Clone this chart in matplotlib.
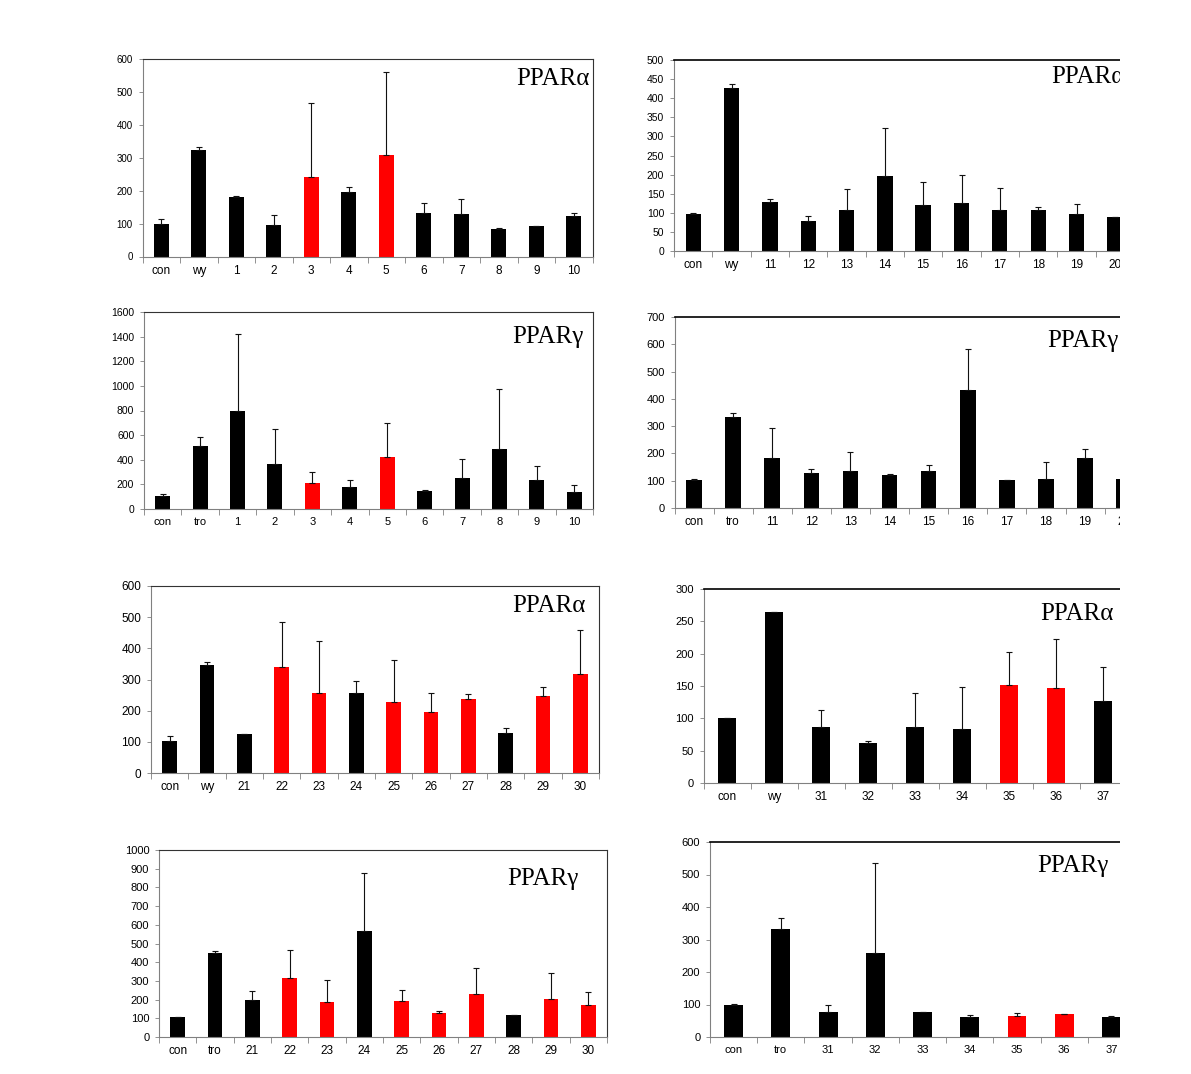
import matplotlib
matplotlib.use("Agg")
import matplotlib.pyplot as plt
from matplotlib.patches import Rectangle
import numpy as np

W, H = 1191, 1074

# ---- data ----
p1_labels = ["con", "wy", "1", "2", "3", "4", "5", "6", "7", "8", "9", "10"]
p1_vals = [99, 324, 182, 96, 242, 195, 309, 133, 128, 84, 92, 123]
p1_err = [14, 8, 2, 31, 224, 17, 251, 29, 46, 2, 1, 9]
p1_red = ["3", "5"]

p2_labels = ["con", "wy", "11", "12", "13", "14", "15", "16", "17", "18", "19", "20"]
p2_vals = [97, 427, 128, 79, 107, 196, 120, 126, 107, 107, 97, 89]
p2_err = [2, 9, 7, 12, 54, 125, 60, 72, 58, 8, 25, 0]
p2_red = []

p3_labels = ["con", "tro", "1", "2", "3", "4", "5", "6", "7", "8", "9", "10"]
p3_vals = [103, 515, 796, 362, 208, 175, 424, 143, 254, 488, 232, 140]
p3_err = [18, 70, 623, 288, 94, 62, 272, 14, 151, 486, 119, 57]
p3_red = ["3", "5"]

p4_labels = ["con", "tro", "11", "12", "13", "14", "15", "16", "17", "18", "19", "20"]
p4_vals = [101, 334, 184, 127, 134, 122, 136, 432, 103, 108, 184, 107]
p4_err = [6, 13, 108, 17, 72, 2, 22, 152, 0, 61, 31, 0]
p4_red = []

p5_labels = ["con", "wy", "21", "22", "23", "24", "25", "26", "27", "28", "29", "30"]
p5_vals = [103, 346, 124, 341, 257, 257, 228, 196, 238, 129, 247, 318]
p5_err = [16, 9, 0, 142, 166, 38, 133, 61, 15, 16, 29, 142]
p5_red = ["22", "23", "25", "26", "27", "29", "30"]

p6_labels = ["con", "wy", "31", "32", "33", "34", "35", "36", "37"]
p6_vals = [100, 265, 86, 62, 86, 83, 152, 147, 127]
p6_err = [1, 0, 27, 3, 53, 65, 51, 76, 52]
p6_red = ["35", "36"]

p7_labels = ["con", "tro", "21", "22", "23", "24", "25", "26", "27", "28", "29", "30"]
p7_vals = [105, 450, 196, 317, 189, 568, 194, 130, 231, 116, 205, 173]
p7_err = [3, 11, 51, 147, 115, 307, 57, 7, 137, 3, 137, 67]
p7_red = ["22", "23", "25", "26", "27", "29", "30"]

p8_labels = ["con", "tro", "31", "32", "33", "34", "35", "36", "37"]
p8_vals = [100, 332, 76, 259, 76, 63, 66, 70, 63]
p8_err = [2, 34, 21, 276, 2, 5, 9, 0, 2]
p8_red = ["35", "36"]

plt.rcParams["font.family"] = ["Liberation Sans", "DejaVu Sans"]

fig = plt.figure(figsize=(W / 100, H / 100), dpi=100)


def panel(rect, labels, vals, errs, red, ymax, ystep, title, tpos,
          full_box=True, yfs=7.5, xfs=8.5):
    l, t, r, b = rect
    ax = fig.add_axes([l / W, 1 - b / H, (r - l) / W, (b - t) / H])
    x = np.arange(len(labels))
    colors = ["#ff0000" if lab in red else "black" for lab in labels]
    ax.bar(x, vals, width=0.4, color=colors, zorder=2)
    ax.errorbar(x, vals, yerr=[np.zeros(len(vals)), errs], fmt="none",
                ecolor="#111111", elinewidth=0.8, capsize=2.2,
                capthick=0.8, zorder=3)
    ax.set_xlim(-0.5, len(labels) - 0.5)
    ax.set_ylim(0, ymax)
    ax.set_yticks(np.arange(0, ymax + 1, ystep))
    ax.set_xticks(x)
    ax.set_xticklabels(labels, fontsize=xfs)
    ax.set_xticks(np.arange(-0.5, len(labels)), minor=True)
    ax.tick_params(axis="x", which="major", length=0, pad=6)
    ax.tick_params(axis="x", which="minor", length=4, width=0.6,
                   color="#808080")
    ax.tick_params(axis="y", length=3, width=0.6, color="#808080",
                   labelsize=yfs, pad=4)
    for s in ["left", "bottom"]:
        ax.spines[s].set_color("#808080")
        ax.spines[s].set_linewidth(0.8)
    if full_box:
        for s in ["top", "right"]:
            ax.spines[s].set_color("#333333")
            ax.spines[s].set_linewidth(0.8)
    else:
        ax.spines["right"].set_visible(False)
        ax.spines["top"].set_color("black")
        ax.spines["top"].set_linewidth(1.2)
    fig.text(tpos[0] / W, 1 - tpos[1] / H, title, family="Liberation Serif",
             fontsize=18, ha="left", va="baseline", zorder=5)
    return ax


panel((142.5, 59, 592.5, 256.5), p1_labels, p1_vals, p1_err, p1_red,
      600, 100, "PPARα", (516, 85), yfs=7, xfs=8.5)
panel((674, 60, 1134, 251), p2_labels, p2_vals, p2_err, p2_red,
      500, 50, "PPARα", (1051, 83), full_box=False, yfs=7.5, xfs=8.5)
panel((144, 312, 593, 509), p3_labels, p3_vals, p3_err, p3_red,
      1600, 200, "PPARγ", (512, 343), yfs=7.5, xfs=8)
panel((674.5, 317, 1143.7, 508), p4_labels, p4_vals, p4_err, p4_red,
      700, 100, "PPARγ", (1047, 347), full_box=False, yfs=8, xfs=8.5)
panel((151, 586, 599, 773), p5_labels, p5_vals, p5_err, p5_red,
      600, 100, "PPARα", (512, 612), yfs=8.5, xfs=8.5)
panel((703.5, 589, 1126.5, 783), p6_labels, p6_vals, p6_err, p6_red,
      300, 50, "PPARα", (1040, 620), full_box=False, yfs=8, xfs=8.5)
panel((159, 850, 607, 1037), p7_labels, p7_vals, p7_err, p7_red,
      1000, 100, "PPARγ", (507, 885), yfs=8, xfs=8.5)
panel((710, 842, 1135, 1037), p8_labels, p8_vals, p8_err, p8_red,
      600, 100, "PPARγ", (1037, 872), full_box=False, yfs=8, xfs=8)

# the right-hand charts are cut off at the right edge
fig.add_artist(Rectangle((1120 / W, 0), 1 - 1120 / W, 1,
                         transform=fig.transFigure, facecolor="white",
                         edgecolor="none", zorder=10))

fig.savefig("out.png", dpi=100)
